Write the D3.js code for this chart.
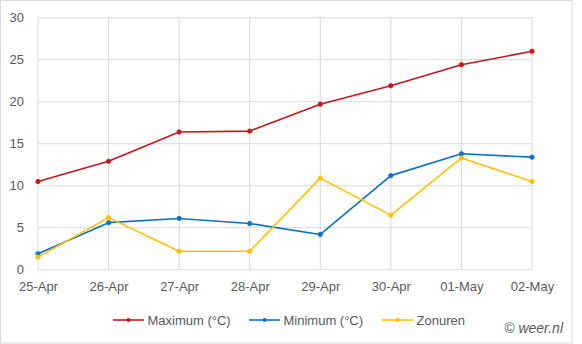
<!DOCTYPE html>
<html>
<head>
<meta charset="utf-8">
<script src="https://cdn.jsdelivr.net/npm/d3@7"></script>
<style>
  html, body { margin: 0; padding: 0; background: #fff; }
  svg { display: block; }
  text { font-family: "Liberation Sans", Arial, sans-serif; }
</style>
</head>
<body>
<svg id="chart" width="582" height="344"></svg>
<script>
// Daily weather figures
const dates = ["25-Apr", "26-Apr", "27-Apr", "28-Apr", "29-Apr", "30-Apr", "01-May", "02-May"];
const maximum = [10.5, 12.9, 16.4, 16.5, 19.7, 21.9, 24.4, 26.0];
const minimum = [1.9, 5.6, 6.1, 5.5, 4.2, 11.2, 13.8, 13.4];
const zonuren = [1.5, 6.2, 2.2, 2.2, 10.9, 6.5, 13.3, 10.5];
const yTicks = [0, 5, 10, 15, 20, 25, 30];

const seriesList = [
  { name: "Maximum (°C)", values: maximum, color: "#c8161d" },
  { name: "Minimum (°C)", values: minimum, color: "#0c72c4" },
  { name: "Zonuren", values: zonuren, color: "#ffc000" }
];

const svg = d3.select("#chart");
const plot = { left: 38, right: 532, top: 17.7, bottom: 269.7 };
const labelSize = "13px";

// Outer frame
svg.append("rect")
  .attr("x", 0.5).attr("y", 0.5)
  .attr("width", 571.5).attr("height", 342.5)
  .attr("fill", "#fff").attr("stroke", "#d9d9d9").attr("stroke-width", 1);

const x = d3.scalePoint().domain(dates).range([plot.left, plot.right]);
const y = d3.scaleLinear().domain([0, 30]).range([plot.bottom, plot.top]);

// Horizontal gridlines
svg.append("g").selectAll("line").data(yTicks).join("line")
  .attr("x1", plot.left).attr("x2", plot.right)
  .attr("y1", d => y(d)).attr("y2", d => y(d))
  .attr("stroke", "#d9d9d9").attr("stroke-width", 1);

// Vertical gridlines
svg.append("g").selectAll("line").data(dates).join("line")
  .attr("x1", d => x(d)).attr("x2", d => x(d))
  .attr("y1", plot.top).attr("y2", plot.bottom)
  .attr("stroke", "#d9d9d9").attr("stroke-width", 1);

// Y axis labels
const yAxis = d3.axisLeft(y).tickValues(yTicks).tickSize(0).tickPadding(14);
const gy = svg.append("g").attr("transform", `translate(${plot.left},0)`).call(yAxis);
gy.select(".domain").remove();
gy.selectAll("text").attr("fill", "#595959").style("font-size", labelSize)
  .style("font-family", "'Liberation Sans', Arial, sans-serif");

// X axis labels
const xAxis = d3.axisBottom(x).tickSize(0).tickPadding(12);
const gx = svg.append("g").attr("transform", `translate(0,${plot.bottom})`).call(xAxis);
gx.select(".domain").remove();
gx.selectAll("text").attr("fill", "#595959").style("font-size", labelSize)
  .style("font-family", "'Liberation Sans', Arial, sans-serif");

// Series lines and markers
const line = d3.line().x((d, i) => x(dates[i])).y(d => y(d));
seriesList.forEach(s => {
  svg.append("path").datum(s.values)
    .attr("d", line)
    .attr("fill", "none")
    .attr("stroke", s.color)
    .attr("stroke-width", 1.6)
    .attr("stroke-linejoin", "round");
  svg.append("g").selectAll("circle").data(s.values).join("circle")
    .attr("cx", (d, i) => x(dates[i]))
    .attr("cy", d => y(d))
    .attr("r", 2.2)
    .attr("fill", s.color)
    .attr("stroke", s.color)
    .attr("stroke-width", 0.8);
});

// Legend
const legendX = [113, 249, 382];
const legendY = 320;
const lg = svg.append("g");
seriesList.forEach((s, i) => {
  const g = lg.append("g").attr("transform", `translate(${legendX[i]},${legendY})`);
  g.append("line").attr("x1", 0).attr("x2", 31).attr("y1", 0).attr("y2", 0)
    .attr("stroke", s.color).attr("stroke-width", 1.6);
  g.append("circle").attr("cx", 15.5).attr("cy", 0).attr("r", 2).attr("fill", s.color);
  g.append("text").attr("x", 34.5).attr("y", 0).attr("dy", "0.35em")
    .attr("fill", "#595959").style("font-size", labelSize).text(s.name);
});

// Credit
svg.append("text")
  .attr("x", 563).attr("y", 328).attr("dy", "0.35em")
  .attr("text-anchor", "end")
  .attr("fill", "#595959")
  .style("font-size", "14px")
  .style("font-style", "italic")
  .text("© weer.nl");
</script>
</body>
</html>
